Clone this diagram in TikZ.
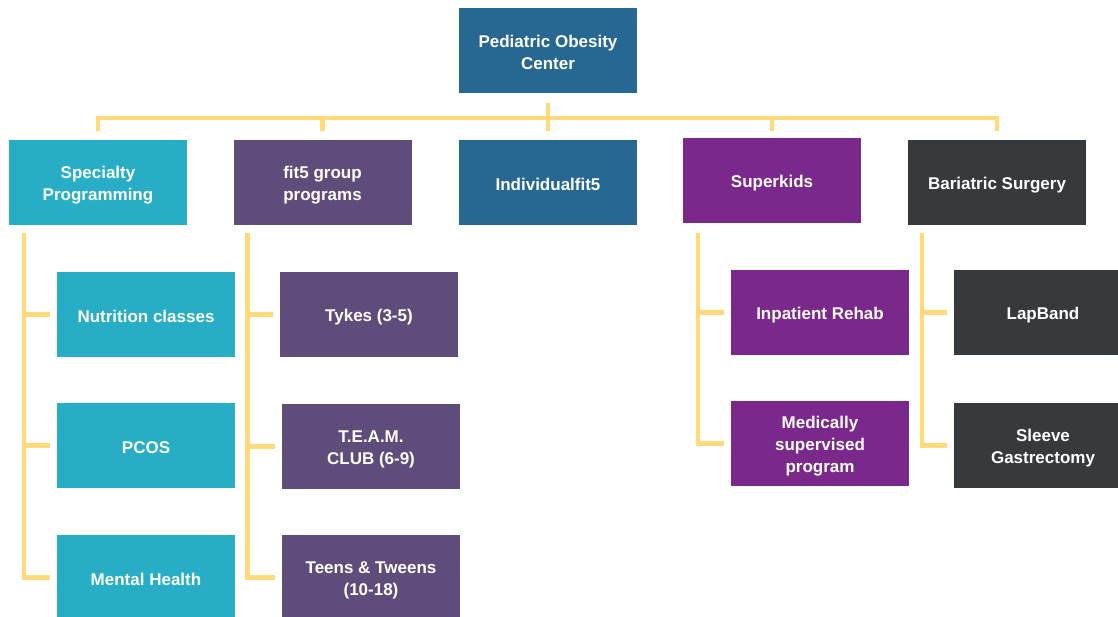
\documentclass[tikz,border=0pt]{standalone}
\usepackage{fontspec}
\setmainfont{Liberation Sans}
\usetikzlibrary{calc}
\definecolor{cyanbox}{HTML}{27AEC6}
\definecolor{grape}{HTML}{5E4D7B}
\definecolor{ocean}{HTML}{276892}
\definecolor{plum}{HTML}{7B288D}
\definecolor{slate}{HTML}{363A3D}
\definecolor{wire}{HTML}{FFD97A}
\begin{document}
\begin{tikzpicture}[x=1pt,y=-1pt]
		\tikzstyle{every node}+=[inner sep=0pt]
		\tikzstyle{box}=[minimum width=178pt,minimum height=85pt,text width=170pt,text=white,align=flush center,font=\bfseries\fontsize{17}{22}\selectfont,execute at begin node={\rule{0pt}{17pt}}]
		\tikzstyle{link}=[wire,line width=4.5pt]
		\clip (0,0) rectangle (1118,616);
		\node [box,fill=ocean] (root) at (548,50.5) {Pediatric Obesity\\Center};
		\node [box,fill=cyanbox] (spec) at (98,182.5) {Specialty\\Programming};
		\node [box,fill=grape] (fit) at (322.5,182.5) {fit5 group\\programs};
		\node [box,fill=ocean] (indiv) at (548,182.5) {Individualfit5};
		\node [box,fill=plum] (supk) at (772,180.5) {Superkids};
		\node [box,fill=slate] (bari) at (997,182.5) {Bariatric Surgery};
		\node [box,fill=cyanbox] (nutr) at (146,314.5) {Nutrition classes};
		\node [box,fill=cyanbox] (pcos) at (146,445.5) {PCOS};
		\node [box,fill=cyanbox] (mental) at (146,577.5) {Mental Health};
		\node [box,fill=grape] (tykes) at (369,314.5) {Tykes (3-5)};
		\node [box,fill=grape] (team) at (371,446.5) {T.E.A.M.\\CLUB (6-9)};
		\node [box,fill=grape] (teens) at (371,577.5) {Teens \& Tweens\\(10-18)};
		\node [box,fill=plum] (rehab) at (820,312.5) {Inpatient Rehab};
		\node [box,fill=plum] (medic) at (820,443.5) {Medically\\supervised\\program};
		\node [box,fill=slate] (lapband) at (1043,312.5) {LapBand};
		\node [box,fill=slate] (sleeve) at (1043,445.5) {Sleeve\\Gastrectomy};
		\coordinate (drop) at (0,131);
		\coordinate (bus) at (548,118);
		\draw [link] ([yshift=-10pt]root.south) -- (root.south |- drop);
		\draw [link] (spec.north |- drop) |- (bus) -| (bari.north |- drop);
		\foreach \n in {fit,supk}
			\draw [link] (\n.north |- drop) -- (\n.north |- bus);
		\coordinate (specl) at ($(spec.south west)+(15,8)$);
		\coordinate (fitl) at ($(fit.south west)+(14,8)$);
		\coordinate (supkl) at ($(supk.south west)+(15,10)$);
		\coordinate (baril) at ($(bari.south west)+(14,8)$);
		\foreach \l/\c in {specl/mental,fitl/teens,supkl/medic,baril/sleeve}
			\draw [link] (\l) |- ([xshift=-7pt]\c.west);
		\foreach \l/\c in {specl/nutr,specl/pcos,fitl/tykes,fitl/team,supkl/rehab,baril/lapband}
			\draw [link] (\l |- \c.west) -- ([xshift=-7pt]\c.west);
\end{tikzpicture}
\end{document}
